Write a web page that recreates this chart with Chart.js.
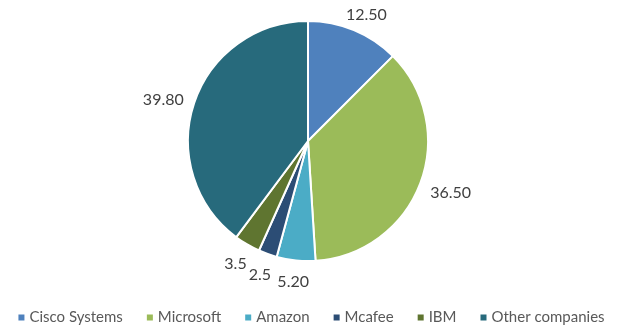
<!DOCTYPE html>
<html><head><meta charset="utf-8">
<script src="https://cdn.jsdelivr.net/npm/chart.js@4"></script>
<style>html,body{margin:0;padding:0;background:#fff;overflow:hidden}</style>
</head><body>
<canvas id="c" width="620" height="328"></canvas>
<script>
const categories = ['Cisco Systems', 'Microsoft', 'Amazon', 'Mcafee', 'IBM', 'Other companies'];
const values = [12.5, 36.5, 5.2, 2.5, 3.5, 39.8];
const valueLabels = ['12.50', '36.50', '5.20', '2.5', '3.5', '39.80'];
const colors = ['#4F81BD', '#9BBB59', '#4BACC6', '#2C4D75', '#5F7530', '#276A7C'];

const FONT = 'Lato, "Open Sans", sans-serif';

const outsideLabels = {
  id: 'outsideLabels',
  afterDatasetsDraw(chart) {
    const ctx = chart.ctx;
    const meta = chart.getDatasetMeta(0);
    ctx.save();
    ctx.font = '16px ' + FONT;
    ctx.fillStyle = '#404040';
    ctx.textAlign = 'center';
    ctx.textBaseline = 'middle';
    const off = 12, h = 14;
    meta.data.forEach((arc, i) => {
      const mid = (arc.startAngle + arc.endAngle) / 2;
      const dx = Math.cos(mid), dy = Math.sin(mid);
      const R = arc.outerRadius + off;
      const w = ctx.measureText(valueLabels[i]).width;
      const x = arc.x + R * dx + dx * w / 2;
      const y = arc.y + R * dy + dy * h / 2 + 2.5;
      ctx.fillText(valueLabels[i], x, y);
    });
    ctx.restore();
  }
};

const bottomLegend = {
  id: 'bottomLegend',
  afterDraw(chart) {
    const ctx = chart.ctx;
    ctx.save();
    ctx.font = '15px ' + FONT;
    const box = 6, gap = 5, itemGap = 24, y = 317.5;
    const widths = categories.map(c => ctx.measureText(c).width);
    const total = widths.reduce((a, w) => a + box + gap + w, 0) + itemGap * (categories.length - 1);
    let x = 311.5 - total / 2;
    ctx.textBaseline = 'middle';
    ctx.textAlign = 'left';
    categories.forEach((c, i) => {
      ctx.fillStyle = colors[i];
      ctx.fillRect(x, y - box / 2, box, box);
      x += box + gap;
      ctx.fillStyle = '#595959';
      ctx.fillText(c, x, y);
      x += widths[i] + itemGap;
    });
    ctx.restore();
  }
};

new Chart(document.getElementById('c'), {
  type: 'pie',
  data: {
    labels: categories,
    datasets: [{
      data: values,
      backgroundColor: colors,
      borderColor: '#ffffff',
      borderWidth: 2
    }]
  },
  options: {
    responsive: false,
    animation: false,
    devicePixelRatio: 1,
    layout: { padding: { top: 20, bottom: 66, left: 0, right: 4 } },
    plugins: {
      legend: { display: false },
      tooltip: { enabled: false }
    }
  },
  plugins: [outsideLabels, bottomLegend]
});
</script>
</body></html>
